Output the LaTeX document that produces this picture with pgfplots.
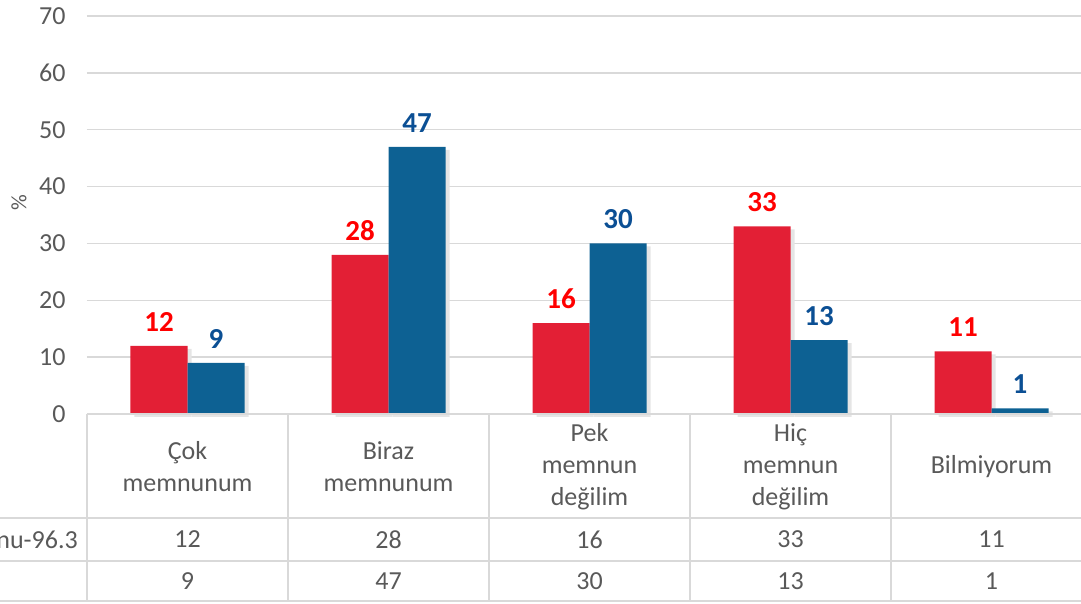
\documentclass[border=0pt]{standalone}
\usepackage{pgfplots}
\pgfplotsset{compat=1.18}
\usepackage{fontspec}
\setmainfont{Carlito}
\definecolor{barred}{HTML}{E31F35}
\definecolor{barblue}{HTML}{0D6193}
\definecolor{lblred}{HTML}{FF0000}
\definecolor{lblblue}{HTML}{0B4F94}
\definecolor{txt}{HTML}{595959}
\definecolor{gridc}{HTML}{D9D9D9}
\tikzset{
  tnode/.style={text=txt, font=\fontsize{26}{30}\selectfont},
  tline/.style={gridc, line width=2pt},
}
\begin{document}
\begin{tikzpicture}
\begin{axis}[
  scale only axis, width=994pt, height=398pt,
  xmin=-0.5, xmax=4.4453, ymin=0, ymax=70,
  ybar=0pt, bar width=57pt,
  ytick={0,10,...,70},
  ymajorgrids, grid style={gridc, line width=1.5pt},
  axis line style={draw=none},
  major tick length=0pt,
  xtick={0,...,4},
  xticklabels={{Çok\\memnunum},{Biraz\\memnunum},{Pek\\memnun\\değilim},{Hiç\\memnun\\değilim},{Bilmiyorum}},
  xticklabel style={align=center, anchor=center, yshift=-53pt, font=\fontsize{26}{32}\selectfont, text=txt},
  yticklabel style={font=\fontsize{26}{30}\selectfont, text=txt, xshift=-18pt},
  /pgf/number format/assume math mode=true,
  ylabel={\%},
  every axis y label/.style={at={(rel axis cs:0,0.53)}, xshift=-68pt, rotate=90, anchor=center, font=\fontsize{22}{26}\selectfont, text=txt},
  clip=false,
  nodes near coords,
  nodes near coords style={font=\bfseries\fontsize{29}{30}\selectfont, yshift=11pt},
]
\addplot[fill=barred, draw=none, nodes near coords style={text=lblred},
  preaction={fill=black!10, transform canvas={xshift=4pt,yshift=-3pt}}]
  coordinates {(0,12) (1,28) (2,16) (3,33) (4,11)};
\addplot[fill=barblue, draw=none, nodes near coords style={text=lblblue},
  preaction={fill=black!10, transform canvas={xshift=4pt,yshift=-3pt}}]
  coordinates {(0,9) (1,47) (2,30) (3,13) (4,1)};
% table lines
\draw[tline] (axis cs:-0.5,0) -- ([xshift=30pt]rel axis cs:1,0);
\draw[tline] (axis cs:-0.5,0) -- ([yshift=-187pt]axis cs:-0.5,0);
\draw[tline] (axis cs:0.5,0) -- ([yshift=-187pt]axis cs:0.5,0);
\draw[tline] (axis cs:1.5,0) -- ([yshift=-187pt]axis cs:1.5,0);
\draw[tline] (axis cs:2.5,0) -- ([yshift=-187pt]axis cs:2.5,0);
\draw[tline] (axis cs:3.5,0) -- ([yshift=-187pt]axis cs:3.5,0);
\draw[tline] ([xshift=-100pt,yshift=-104pt]rel axis cs:0,0) -- ([xshift=30pt,yshift=-104pt]rel axis cs:1,0);
\draw[tline] ([xshift=-100pt,yshift=-147pt]rel axis cs:0,0) -- ([xshift=30pt,yshift=-147pt]rel axis cs:1,0);
\draw[tline] ([xshift=-100pt,yshift=-187pt]rel axis cs:0,0) -- ([xshift=30pt,yshift=-187pt]rel axis cs:1,0);
\node[anchor=east, inner sep=0pt, tnode] at ([xshift=-9pt,yshift=-125.5pt]rel axis cs:0,0) {nu-96.3};
\node[tnode] at ([yshift=-125.5pt]axis cs:0,0) {12};
\node[tnode] at ([yshift=-125.5pt]axis cs:1,0) {28};
\node[tnode] at ([yshift=-125.5pt]axis cs:2,0) {16};
\node[tnode] at ([yshift=-125.5pt]axis cs:3,0) {33};
\node[tnode] at ([yshift=-125.5pt]axis cs:4,0) {11};
\node[tnode] at ([yshift=-167pt]axis cs:0,0) {9};
\node[tnode] at ([yshift=-167pt]axis cs:1,0) {47};
\node[tnode] at ([yshift=-167pt]axis cs:2,0) {30};
\node[tnode] at ([yshift=-167pt]axis cs:3,0) {13};
\node[tnode] at ([yshift=-167pt]axis cs:4,0) {1};
\end{axis}
\pgfresetboundingbox
\useasboundingbox ([xshift=-87pt,yshift=-190pt]current axis.south west) rectangle ([yshift=16pt]current axis.north east);
\end{tikzpicture}
\end{document}
